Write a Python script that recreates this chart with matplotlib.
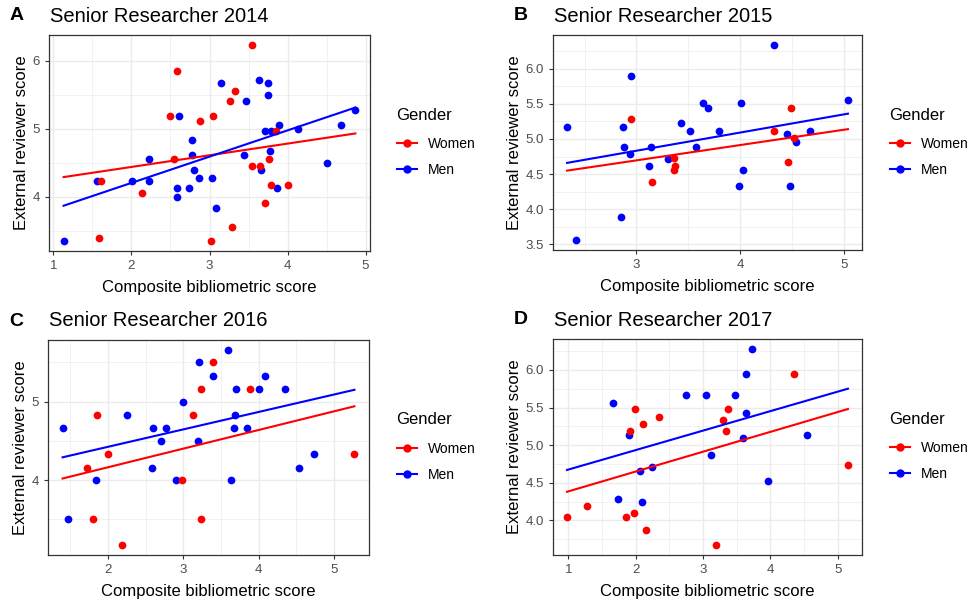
import matplotlib.pyplot as plt
from matplotlib.lines import Line2D
from matplotlib.ticker import MultipleLocator, FormatStrFormatter

plt.rcParams['font.family'] = ['Liberation Sans', 'DejaVu Sans']

# ---- panel A: 2014
a_women_x = [3.55, 2.58, 3.33, 3.26, 2.49, 3.05, 2.88, 2.55, 3.85, 3.76, 3.55, 3.65, 3.79, 4.00, 3.71, 3.29, 2.14, 1.61, 1.59, 3.02]
a_women_y = [6.23, 5.84, 5.55, 5.40, 5.18, 5.18, 5.11, 4.56, 4.97, 4.56, 4.45, 4.45, 4.18, 4.18, 3.91, 3.56, 4.05, 4.23, 3.40, 3.35]
a_men_x = [1.13, 1.56, 2.01, 2.22, 2.22, 2.61, 2.77, 2.77, 2.80, 2.86, 2.58, 2.58, 2.74, 3.03, 3.08, 3.15,
           3.47, 3.44, 3.64, 3.75, 3.75, 3.71, 3.79, 3.89, 3.78, 3.66, 3.87, 4.13, 4.50, 4.68, 4.87]
a_men_y = [3.35, 4.23, 4.23, 4.56, 4.23, 5.18, 4.84, 4.62, 4.40, 4.28, 4.13, 4.00, 4.13, 4.28, 3.84, 5.67,
           5.40, 4.62, 5.72, 5.67, 5.50, 4.96, 4.96, 5.06, 4.67, 4.40, 4.13, 5.00, 4.50, 5.06, 5.28]
a_fit_x = [1.13, 4.87]
a_women_fit = [4.29, 4.93]
a_men_fit = [3.87, 5.31]

# ---- panel B: 2015
b_women_x = [2.95, 3.15, 3.36, 3.37, 3.36, 4.33, 4.46, 4.49, 4.52]
b_women_y = [5.28, 4.39, 4.73, 4.61, 4.56, 5.11, 4.67, 5.44, 5.02]
b_men_x = [2.33, 2.42, 2.85, 2.87, 2.88, 2.95, 2.94, 3.12, 3.14, 3.30, 3.43, 3.52, 3.57, 3.64, 3.69, 3.80,
           3.99, 4.01, 4.03, 4.33, 4.45, 4.48, 4.54, 4.67, 5.04]
b_men_y = [5.17, 3.56, 3.89, 5.17, 4.89, 5.89, 4.78, 4.61, 4.89, 4.72, 5.23, 5.11, 4.89, 5.51, 5.44, 5.12,
           4.33, 5.51, 4.56, 6.34, 5.07, 4.33, 4.95, 5.12, 5.56]
b_fit_x = [2.33, 5.04]
b_women_fit = [4.55, 5.14]
b_men_fit = [4.66, 5.36]

# ---- panel C: 2016
c_women_x = [1.73, 1.80, 1.85, 2.00, 2.19, 2.99, 3.13, 3.23, 3.24, 3.40, 3.89, 5.27]
c_women_y = [4.16, 3.50, 4.83, 4.33, 3.17, 4.00, 4.83, 3.50, 5.16, 5.50, 5.16, 4.33]
c_men_x = [1.40, 1.47, 1.84, 2.25, 2.58, 2.60, 2.70, 2.77, 2.90, 3.00, 3.20, 3.21, 3.39, 3.59, 3.64, 3.67,
           3.69, 3.70, 3.85, 4.00, 4.08, 4.35, 4.54, 4.73]
c_men_y = [4.66, 3.50, 4.00, 4.83, 4.16, 4.66, 4.50, 4.66, 4.00, 5.00, 4.50, 5.50, 5.32, 5.66, 4.00, 4.66,
           4.83, 5.16, 4.66, 5.16, 5.32, 5.16, 4.16, 4.33]
c_fit_x = [1.40, 5.27]
c_women_fit = [4.02, 4.94]
c_men_fit = [4.29, 5.15]

# ---- panel D: 2017
d_women_x = [0.98, 1.27, 1.85, 1.92, 1.97, 1.99, 2.11, 2.15, 2.35, 3.19, 3.29, 3.34, 3.37, 4.35, 5.15]
d_women_y = [4.05, 4.19, 4.05, 5.19, 4.10, 5.48, 5.28, 3.87, 5.37, 3.67, 5.33, 5.19, 5.48, 5.94, 4.73]
d_men_x = [1.66, 1.74, 1.90, 2.06, 2.09, 2.24, 2.74, 3.05, 3.12, 3.47, 3.59, 3.63, 3.64, 3.72, 3.97, 4.54]
d_men_y = [5.56, 4.28, 5.13, 4.66, 4.24, 4.71, 5.66, 5.66, 4.87, 5.66, 5.10, 5.43, 5.94, 6.28, 4.52, 5.14]
d_fit_x = [0.98, 5.15]
d_women_fit = [4.38, 5.48]
d_men_fit = [4.67, 5.75]

W, H = 972, 602
fig = plt.figure(figsize=(W / 100, H / 100), dpi=100)

def fx(px):
    return px / W

def fy(py):
    return 1 - py / H

panels = [
    ('A', 'Senior Researcher 2014', (49, 35, 370, 251), a_women_x, a_women_y, a_men_x, a_men_y,
     a_fit_x, a_women_fit, a_men_fit, 1.0, 0.5, '%d', 396),
    ('B', 'Senior Researcher 2015', (553, 35, 862, 250), b_women_x, b_women_y, b_men_x, b_men_y,
     b_fit_x, b_women_fit, b_men_fit, 0.5, 0.25, '%.1f', 889),
    ('C', 'Senior Researcher 2016', (48, 340, 369, 555), c_women_x, c_women_y, c_men_x, c_men_y,
     c_fit_x, c_women_fit, c_men_fit, 1.0, 0.5, '%d', 396),
    ('D', 'Senior Researcher 2017', (553, 339, 862, 555), d_women_x, d_women_y, d_men_x, d_men_y,
     d_fit_x, d_women_fit, d_men_fit, 0.5, 0.25, '%.1f', 889),
]

red = '#FF0000'
blue = '#0000FF'

for (letter, title, box, wx, wy, mx, my, fitx, wfit, mfit, ymaj, ymin, yfmt, legx) in panels:
    l, t, r, b = box
    ax = fig.add_axes([fx(l), fy(b), fx(r - l), (b - t) / H])
    ax.scatter(mx, my, s=31, color=blue, zorder=3, linewidths=0)
    ax.scatter(wx, wy, s=31, color=red, zorder=3, linewidths=0)
    ax.plot(fitx, wfit, color=red, lw=1.5, zorder=4)
    ax.plot(fitx, mfit, color=blue, lw=1.5, zorder=4)
    ax.margins(0.05)

    ax.xaxis.set_major_locator(MultipleLocator(1))
    ax.xaxis.set_minor_locator(MultipleLocator(0.5))
    ax.yaxis.set_major_locator(MultipleLocator(ymaj))
    ax.yaxis.set_minor_locator(MultipleLocator(ymin))
    ax.xaxis.set_major_formatter(FormatStrFormatter('%d'))
    ax.yaxis.set_major_formatter(FormatStrFormatter(yfmt))
    ax.grid(which='major', color='#EBEBEB', lw=1.0)
    ax.grid(which='minor', color='#EBEBEB', lw=0.5)
    ax.set_axisbelow(True)
    ax.tick_params(which='major', length=3, width=0.8, color='#333333', labelsize=9.5,
                   labelcolor='#4D4D4D', pad=3.5)
    ax.tick_params(which='minor', length=0)
    for sp in ax.spines.values():
        sp.set_color('#333333')
        sp.set_linewidth(0.9)

    ax.set_xlabel('Composite bibliometric score', fontsize=12, labelpad=6)
    ax.set_ylabel('External reviewer score', fontsize=12, labelpad=2.5)

    fig.text(fx(l - 39), fy(t - 19), letter, fontsize=14, fontweight='bold', va='center', ha='left')
    fig.text(fx(l + 1), fy(t - 19), title, fontsize=14.5, va='center', ha='left')

    handles = [Line2D([], [], color=red, lw=1.5, marker='o', markersize=5),
               Line2D([], [], color=blue, lw=1.5, marker='o', markersize=5)]
    leg = ax.legend(handles, ['Women', 'Men'], title='Gender', loc='upper left',
                    bbox_to_anchor=(fx(legx - 12), fy(t + 60)), bbox_transform=fig.transFigure,
                    frameon=False, fontsize=10, title_fontsize=12, handlelength=1.5,
                    handletextpad=0.75, labelspacing=0.85)
    leg._legend_box.align = 'left'
    leg._legend_box.sep = 10.5

fig.savefig('out.png', dpi=100)
